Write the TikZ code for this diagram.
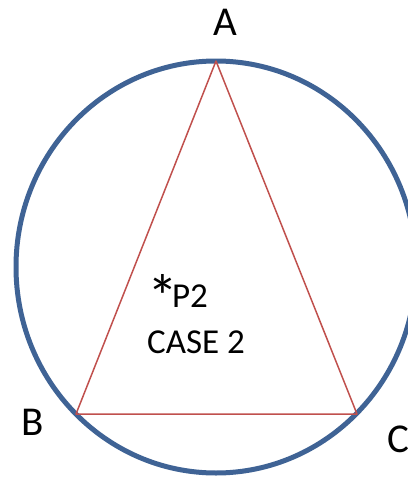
\documentclass[tikz,border=0pt]{standalone}
\usepackage{fontspec}
\setmainfont{Carlito}
\definecolor{circblue}{HTML}{3F6395}
\definecolor{trired}{HTML}{C0504D}
\begin{document}
\begin{tikzpicture}[x=1pt,y=-1pt,
  lbl/.style={inner sep=0pt, font=\fontsize{41}{41}\selectfont},
  txt/.style={inner sep=0pt, font=\fontsize{35}{35}\selectfont, anchor=base west},
  circ/.style={draw=circblue, line width=5pt},
  tri/.style={draw=trired, line width=1.5pt, line join=round}]
\useasboundingbox (0,0) rectangle (407,479);
\draw[circ] (216,267) ellipse [x radius=200pt, y radius=206pt];
\coordinate (A) at (216,61);
\coordinate (B) at (76,414);
\coordinate (C) at (357,414);
\draw[tri] (A) -- (B) -- (C) -- cycle;
\node[lbl, anchor=base] (lA) at (225,35) {A};
\node[lbl, anchor=base] (lB) at (33,435) {B};
\node[lbl, anchor=base west] (lC) at (387,452) {C};
\node[txt] (p2) at (147,307) {\smash{\raisebox{-11pt}{\fontsize{62}{62}\selectfont *}}\kern-6pt P2};
\node[txt] (case) at (147,353) {CASE 2};
\end{tikzpicture}
\end{document}
